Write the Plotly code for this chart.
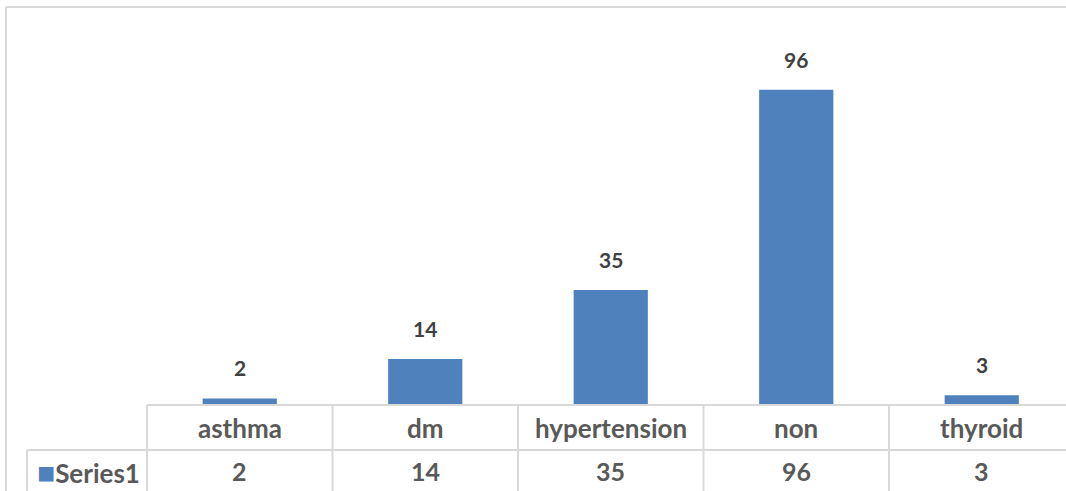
import plotly.graph_objects as go

categories = ["asthma", "dm", "hypertension", "non", "thyroid"]
values = [2, 14, 35, 96, 3]
series_name = "Series1"

BAR = "#4f81bd"
GRID = "#d9d9d9"
FONT = "Lato"

W, H = 1066, 491
FIG_W = 1090  # extends past the window so the chart runs off the right edge
L, T = 147, 11
R = FIG_W - W
B = 491 - 405
PW, PH = W - L, H - T - B

def px_to_paper_x(px):
    return (px - L) / PW

def px_to_paper_y(py):
    return (H - B - py) / PH

fig = go.Figure()
fig.add_trace(go.Bar(
    x=list(range(len(categories))), y=values, name=series_name,
    marker=dict(color=BAR, line=dict(width=0)), width=0.4,
    hoverinfo="skip",
))

# data labels above bars
for i, v in enumerate(values):
    fig.add_annotation(x=i, y=v, xref="x", yref="y", text=f"<b>{v}</b>",
                       showarrow=False, yanchor="bottom", yshift=16,
                       font=dict(family=FONT, size=21, color="#404040"))

# data table text
row1_y = px_to_paper_y(428)
row2_y = px_to_paper_y(471)
for i, (c, v) in enumerate(zip(categories, values)):
    fig.add_annotation(x=i, y=row1_y, xref="x", yref="paper", text=f"<b>{c}</b>",
                       showarrow=False, yanchor="middle",
                       font=dict(family=FONT, size=26, color="#595959"))
    fig.add_annotation(x=i, y=row2_y, xref="x", yref="paper", text=f"<b>{v}</b>",
                       showarrow=False, yanchor="middle",
                       font=dict(family=FONT, size=25, color="#595959"))
fig.add_annotation(x=px_to_paper_x(142), y=row2_y, xref="paper", yref="paper",
                   text=f"<span style='color:{BAR};font-size:30px'>■</span><b>{series_name}</b>",
                   showarrow=False, xanchor="right", yanchor="middle",
                   font=dict(family=FONT, size=26, color="#595959"))

RIGHT = 1085
BOTTOM = 495

def hline(x0, x1, y):
    return dict(type="line", xref="paper", yref="paper",
                x0=px_to_paper_x(x0), x1=px_to_paper_x(x1),
                y0=px_to_paper_y(y), y1=px_to_paper_y(y),
                line=dict(color=GRID, width=2))

def vline(x, y0, y1):
    return dict(type="line", xref="paper", yref="paper",
                x0=px_to_paper_x(x), x1=px_to_paper_x(x),
                y0=px_to_paper_y(y0), y1=px_to_paper_y(y1),
                line=dict(color=GRID, width=2))

shapes = []
# outer chart frame (top and left edges visible)
shapes.append(hline(6, RIGHT, 7))
shapes.append(vline(6, 7, BOTTOM))
# table lines
shapes.append(hline(L, RIGHT, 405))
shapes.append(hline(27, RIGHT, 450))
col_w = 185.5
for k in range(len(categories)):
    shapes.append(vline(L + k * col_w, 405, BOTTOM))
shapes.append(vline(27, 450, BOTTOM))

x_end = -0.5 + PW / col_w
fig.update_layout(
    width=FIG_W, height=H, margin=dict(l=L, r=R, t=T, b=B),
    paper_bgcolor="white", plot_bgcolor="white",
    showlegend=False, shapes=shapes,
    xaxis=dict(range=[-0.5, x_end], showticklabels=False, showgrid=False,
               zeroline=False, showline=False, fixedrange=True),
    yaxis=dict(range=[0, 120], showticklabels=False, showgrid=False,
               zeroline=False, showline=False, fixedrange=True),
)

fig.write_html("out.html", config={"displayModeBar": False},
               post_script="document.body.style.margin='0';document.body.style.overflow='hidden';")
